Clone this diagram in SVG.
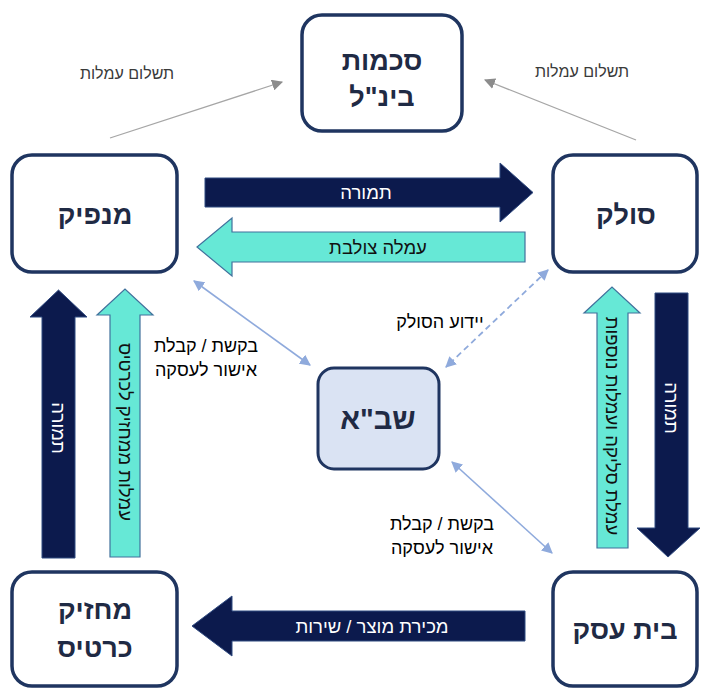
<svg xmlns="http://www.w3.org/2000/svg" width="709" height="689" viewBox="0 0 709 689">
<defs>
<style>
.box{fill:#ffffff;stroke:#1f3560;stroke-width:3.5}
.sba{fill:#dae3f3;stroke:#1f3560;stroke-width:3}
.nt{font-family:"Liberation Sans","DejaVu Sans",sans-serif;font-weight:bold;font-size:27px;fill:#1f2a44;text-anchor:middle;direction:rtl}
.lab{font-family:"Liberation Sans","DejaVu Sans",sans-serif;font-size:18px;fill:#000000;text-anchor:middle;direction:rtl}
.gl{font-family:"Liberation Sans","DejaVu Sans",sans-serif;font-size:16px;fill:#3a3a3a;text-anchor:middle;direction:rtl}
.wt{font-family:"Liberation Sans","DejaVu Sans",sans-serif;font-size:18.5px;fill:#ffffff;text-anchor:middle;direction:rtl}
.dt{font-family:"Liberation Sans","DejaVu Sans",sans-serif;font-size:18.5px;fill:#111111;text-anchor:middle;direction:rtl}
.dark{fill:#0c1a4d;stroke:#2f4a80;stroke-width:1}
.teal{fill:#66e8d6;stroke:#41719c;stroke-width:1.2}
.gray{stroke:#a6a6a6;stroke-width:1.3;fill:none}
.blue{stroke:#8faadc;stroke-width:1.6;fill:none}
.dash{stroke:#8faadc;stroke-width:1.8;fill:none;stroke-dasharray:6 4}
</style>
<marker id="ag" viewBox="0 0 10 10" refX="9" refY="5" markerWidth="11" markerHeight="11" markerUnits="userSpaceOnUse" orient="auto-start-reverse">
<path d="M0,0 L10,5 L0,10 z" fill="#8c8c8c"/>
</marker>
<marker id="ab" viewBox="0 0 10 10" refX="9" refY="5" markerWidth="11" markerHeight="11" markerUnits="userSpaceOnUse" orient="auto-start-reverse">
<path d="M0,0 L10,5 L0,10 z" fill="#8faadc"/>
</marker>
</defs>
<rect width="709" height="689" fill="#ffffff"/>

<g id="connectors">
<line class="gray" x1="110" y1="138" x2="282" y2="82" marker-end="url(#ag)"/>
<line class="gray" x1="636" y1="140" x2="485" y2="80" marker-end="url(#ag)"/>
<line class="blue" x1="194" y1="281" x2="310" y2="365" marker-start="url(#ab)" marker-end="url(#ab)"/>
<line class="dash" x1="548" y1="270" x2="446" y2="367" marker-start="url(#ab)" marker-end="url(#ab)"/>
<line class="blue" x1="452" y1="462" x2="552" y2="553" marker-start="url(#ab)" marker-end="url(#ab)"/>

<path class="dark" d="M205,178 H500 V163 L533,192.5 L500,222 V207 H205 Z"/>
<path class="teal" d="M525,232 H232 V218 L197,247 L232,276 V262 H525 Z"/>
<path class="dark" d="M525,611 H232 V596 L192,626 L232,656 V641 H525 Z"/>
<path class="dark" d="M42,558 V317 H30 L58.5,290 L87,317 H75 V558 Z"/>
<path class="teal" d="M110,557 V315 H97 L125,289 L153,315 H140 V557 Z"/>
<path class="teal" d="M597,548 V313 H584 L612,287 L640,313 H628 V548 Z"/>
<path class="dark" d="M655,293 V528 H637 L668,557 L700,528 H688 V293 Z"/>

<text class="wt" x="366" y="199">תמורה</text>
<text class="dt" x="378" y="254">עמלה צולבת</text>
<text class="wt" x="372" y="633">מכירת מוצר / שירות</text>
<text class="wt" transform="translate(58.5,428) rotate(90)" y="6.5">תמורה</text>
<text class="dt" transform="translate(125,432) rotate(90)" y="6.5">עמלות ממחזיק לכרטיס</text>
<text class="dt" transform="translate(612,426) rotate(90)" y="6.5">עמלת סליקה ועמלות נוספות</text>
<text class="wt" transform="translate(671,408) rotate(90)" y="6.5">תמורה</text>

<text class="gl" x="127" y="79">תשלום עמלות</text>
<text class="gl" x="582" y="77">תשלום עמלות</text>
<text class="lab" x="206" y="352">בקשת / קבלת</text>
<text class="lab" x="206" y="376">אישור לעסקה</text>
<text class="lab" x="440" y="328">יידוע הסולק</text>
<text class="lab" x="442" y="530">בקשת / קבלת</text>
<text class="lab" x="442" y="554">אישור לעסקה</text>
</g>

<g id="n-schemes">
<rect class="box" x="302" y="15" width="160" height="116" rx="20"/>
<text class="nt" x="382" y="70">סכמות</text>
<text class="nt" x="382" y="106">בינ"ל</text>
</g>
<g id="n-issuer">
<rect class="box" x="12" y="155" width="165" height="117" rx="20"/>
<text class="nt" x="95" y="224">מנפיק</text>
</g>
<g id="n-acquirer">
<rect class="box" x="553" y="155" width="144" height="117" rx="20"/>
<text class="nt" x="626" y="224">סולק</text>
</g>
<g id="n-shva">
<rect class="sba" x="318" y="368" width="121" height="101" rx="16"/>
<text class="nt" x="378" y="429" style="font-size:29px">שב"א</text>
</g>
<g id="n-cardholder">
<rect class="box" x="12" y="572" width="165" height="114" rx="20"/>
<text class="nt" x="95" y="619">מחזיק</text>
<text class="nt" x="95" y="657">כרטיס</text>
</g>
<g id="n-merchant">
<rect class="box" x="553" y="572" width="144" height="114" rx="20"/>
<text class="nt" x="625" y="639">בית עסק</text>
</g>
</svg>
